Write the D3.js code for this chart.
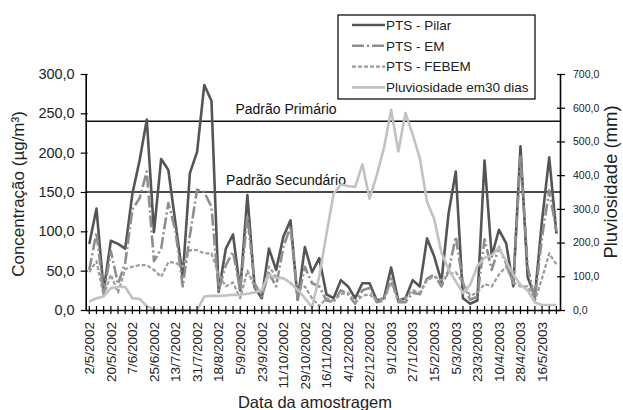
<!DOCTYPE html>
<html>
<head>
<meta charset="utf-8">
<script src="https://cdn.jsdelivr.net/npm/d3@7"></script>
<style>
  body { margin: 0; background: #fff; }
  svg { font-family: "Liberation Sans", Arial, sans-serif; }
</style>
</head>
<body>
<div id="viz"></div>
<script>
// sample dates (every 6 days), only every 3rd one is labelled
var dates = ["2/5/2002","8/5/2002","14/5/2002","20/5/2002","26/5/2002","1/6/2002","7/6/2002","13/6/2002","19/6/2002",
  "25/6/2002","1/7/2002","7/7/2002","13/7/2002","19/7/2002","25/7/2002","31/7/2002","6/8/2002","12/8/2002",
  "18/8/2002","24/8/2002","30/8/2002","5/9/2002","11/9/2002","17/9/2002","23/9/2002","29/9/2002","5/10/2002",
  "11/10/2002","17/10/2002","23/10/2002","29/10/2002","4/11/2002","10/11/2002","16/11/2002","22/11/2002","28/11/2002",
  "4/12/2002","10/12/2002","16/12/2002","22/12/2002","28/12/2002","3/1/2003","9/1/2003","15/1/2003","21/1/2003",
  "27/1/2003","2/2/2003","8/2/2003","15/2/2003","21/2/2003","27/2/2003","5/3/2003","11/3/2003","17/3/2003",
  "23/3/2003","29/3/2003","4/4/2003","10/4/2003","16/4/2003","22/4/2003","28/4/2003","4/5/2003","10/5/2003",
  "16/5/2003","22/5/2003","28/5/2003"];

var pilar = [84,129,25,88,84,78,148,190,242,99,192,178,110,42,174,201,286,266,
  23,78,96,25,146,29,15,78,51,93,114,13,80,48,66,20,15,38,
  30,15,34,34,12,15,54,12,15,38,30,91,68,36,123,176,15,8,
  12,190,68,102,85,30,208,42,17,114,194,97];
var em = [51,99,20,75,33,60,128,142,176,62,78,136,100,30,95,153,150,131,
  25,57,74,25,120,34,17,47,30,80,106,13,55,34,30,12,10,25,
  20,8,25,28,10,12,40,10,10,22,20,40,45,30,50,93,34,13,
  17,90,51,80,59,34,195,55,13,93,152,100];
var febem = [48,62,18,45,22,52,55,57,57,51,42,61,60,55,76,76,72,72,
  45,30,35,15,50,30,20,55,42,40,35,25,30,15,5,15,12,20,
  22,10,18,20,12,15,35,12,15,25,22,38,42,38,45,48,35,18,
  22,33,30,45,55,35,30,30,12,40,72,58];
var pluv = [25,35,40,65,68,68,35,33,12,0,0,0,0,0,0,0,40,42,
  42,43,45,45,48,52,60,105,95,95,80,60,35,8,100,225,345,372,
  368,365,432,330,400,480,594,470,584,520,450,320,270,170,120,85,50,75,
  130,155,162,185,145,105,75,58,22,15,15,15];

var leftTicks = [0,50,100,150,200,250,300];
var rightTicks = [0,100,200,300,400,500,600,700];
var padroes = [{name: "Padrão Primário", value: 240}, {name: "Padrão Secundário", value: 150}];

var width = 623, height = 410;
var plotLeft = 85.7, plotRight = 560, plotTop = 74, plotBottom = 310;

var svg = d3.select("#viz").append("svg")
    .attr("width", width)
    .attr("height", height);

var x = d3.scaleBand().domain(d3.range(dates.length)).range([plotLeft, plotRight]);
var cx = function(i) { return x(i) + x.bandwidth() / 2; };
var y = d3.scaleLinear().domain([0, 300]).range([plotBottom, plotTop]);
var y2 = d3.scaleLinear().domain([0, 700]).range([plotBottom, plotTop]);

var fmt = function(d) { return d3.format(".1f")(d).replace(".", ","); };

// reference lines
svg.selectAll(".padrao").data(padroes).enter()
  .append("line")
    .attr("x1", plotLeft).attr("x2", plotRight)
    .attr("y1", function(d) { return y(d.value); })
    .attr("y2", function(d) { return y(d.value); })
    .attr("stroke", "#111").attr("stroke-width", 1.6);
svg.selectAll(".padraoText").data(padroes).enter()
  .append("text")
    .attr("x", 286)
    .attr("y", function(d) { return y(d.value) - 7; })
    .attr("text-anchor", "middle")
    .style("font-size", "14px")
    .attr("fill", "#111")
    .text(function(d) { return d.name; });

// series
var series = [
  {data: pilar, scale: y, color: "#555", w: 2.6, dash: null},
  {data: em, scale: y, color: "#8e8e8e", w: 2.6, dash: "12,3,2,3"},
  {data: febem, scale: y, color: "#9c9c9c", w: 2.2, dash: "4,2"},
  {data: pluv, scale: y2, color: "#c2c2c2", w: 2.6, dash: null}
];
series.forEach(function(s) {
  var line = d3.line()
      .x(function(d, i) { return cx(i); })
      .y(function(d) { return s.scale(d); });
  svg.append("path")
      .datum(s.data)
      .attr("fill", "none")
      .attr("stroke", s.color)
      .attr("stroke-width", s.w)
      .attr("stroke-linejoin", "round")
      .attr("stroke-dasharray", s.dash)
      .attr("d", line);
});

// axes
var yAxis = svg.append("g")
    .attr("transform", "translate(" + plotLeft + ",0)")
    .call(d3.axisLeft(y).tickValues(leftTicks).tickFormat(fmt).tickSize(5).tickSizeOuter(0).tickPadding(6));
yAxis.selectAll(".tick line").attr("x1", 2);
yAxis.selectAll("text").style("font-size", "14.5px").attr("fill", "#222");

var y2Axis = svg.append("g")
    .attr("transform", "translate(" + plotRight + ",0)")
    .call(d3.axisRight(y2).tickValues(rightTicks).tickFormat(fmt).tickSize(5).tickSizeOuter(0).tickPadding(8));
y2Axis.selectAll(".tick line").attr("x1", -3);
y2Axis.selectAll("text").style("font-size", "10.5px").attr("fill", "#222");

var xAxis = svg.append("g")
    .attr("transform", "translate(0," + plotBottom + ")")
    .call(d3.axisBottom(x).tickFormat(function(i) { return i % 3 === 0 ? dates[i] : ""; })
      .tickSize(4).tickSizeOuter(0));
xAxis.selectAll(".tick line").attr("y1", -4);
xAxis.selectAll("text")
    .attr("transform", "rotate(-90)")
    .attr("x", -12).attr("y", 0).attr("dy", "0.35em")
    .style("text-anchor", "end")
    .style("font-size", "13.5px")
    .attr("fill", "#222");

[yAxis, y2Axis, xAxis].forEach(function(a) {
  a.select(".domain").attr("stroke", "#000").attr("stroke-width", 1.6);
  a.selectAll(".tick line").attr("stroke", "#000").attr("stroke-width", 1.2);
});

// axis titles
svg.append("text")
    .attr("transform", "translate(24,194) rotate(-90)")
    .attr("text-anchor", "middle")
    .style("font-size", "17px").attr("fill", "#222")
    .text("Concentração (µg/m³)");
svg.append("text")
    .attr("transform", "translate(617,182) rotate(-90)")
    .attr("text-anchor", "middle")
    .style("font-size", "18.5px").attr("fill", "#222")
    .text("Pluviosidade (mm)");
svg.append("text")
    .attr("x", 315).attr("y", 408)
    .attr("text-anchor", "middle")
    .style("font-size", "16.5px").attr("fill", "#222")
    .text("Data da amostragem");

// legend
var legendItems = [
  {name: "PTS - Pilar", s: series[0]},
  {name: "PTS - EM", s: series[1]},
  {name: "PTS - FEBEM", s: series[2]},
  {name: "Pluviosidade em30 dias", s: series[3]}
];
svg.append("rect")
    .attr("x", 338).attr("y", 15).attr("width", 197).attr("height", 84)
    .attr("fill", "#fff").attr("stroke", "#111").attr("stroke-width", 1.3);
var lg = svg.selectAll(".lg").data(legendItems).enter()
  .append("g")
    .attr("transform", function(d, i) { return "translate(0," + (25 + i * 20.8) + ")"; });
lg.append("line")
    .attr("x1", 352).attr("x2", 385)
    .attr("stroke", function(d) { return d.s.color; })
    .attr("stroke-width", function(d) { return d.s.w; })
    .attr("stroke-dasharray", function(d) { return d.s.dash; });
lg.append("text")
    .attr("x", 386).attr("dy", "0.35em")
    .style("font-size", "13.5px").attr("fill", "#222")
    .text(function(d) { return d.name; });
</script>
</body>
</html>
